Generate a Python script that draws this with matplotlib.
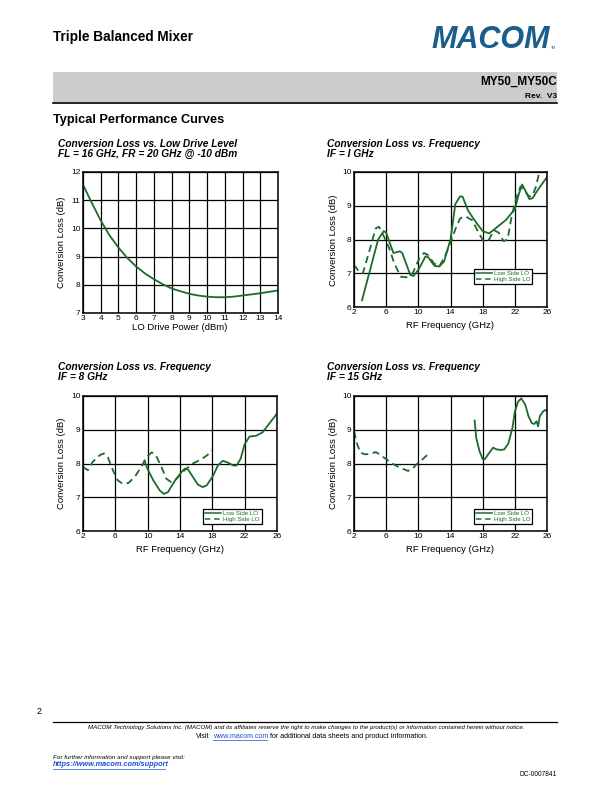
import matplotlib
matplotlib.use("Agg")
import matplotlib.pyplot as plt
from matplotlib.patches import Rectangle
from matplotlib.lines import Line2D

plt.rcParams['font.family'] = ['Liberation Sans', 'DejaVu Sans']

# ---------------- data ----------------
lo_power = [3, 3.5, 4, 4.5, 5, 5.5, 6, 6.5, 7, 7.5, 8, 8.5, 9, 9.5, 10, 10.5, 11, 11.5, 12, 12.5, 13, 13.5, 14]
cl_lo = [11.55, 10.9, 10.28, 9.75, 9.32, 8.95, 8.65, 8.4, 8.2, 8.02, 7.87, 7.77, 7.68, 7.62, 7.58, 7.56, 7.56, 7.58, 7.62, 7.66, 7.7, 7.75, 7.8]

if1_low_f = [3.0, 5.0, 5.7, 6.0, 6.9, 7.7, 8.0, 9.0, 9.4, 10.0, 10.9, 11.2, 12.0, 12.6, 13.2, 14.0, 14.6, 15.2, 15.5, 16.2, 17.2, 18.0, 18.8, 19.6, 20.9, 22.0, 22.5, 22.9, 23.2, 23.8, 24.2, 24.8, 26.0]
if1_low_cl = [6.2, 8.0, 8.25, 8.2, 7.6, 7.65, 7.6, 6.95, 6.92, 7.1, 7.5, 7.48, 7.22, 7.2, 7.35, 8.0, 9.05, 9.28, 9.27, 8.85, 8.5, 8.25, 8.18, 8.33, 8.58, 8.9, 9.35, 9.63, 9.5, 9.2, 9.22, 9.45, 9.85]
if1_high_f = [2.0, 2.7, 3.1, 3.9, 4.7, 5.1, 5.7, 6.4, 7.0, 7.8, 8.5, 9.3, 10.1, 10.7, 11.3, 11.9, 12.6, 13.3, 14.0, 14.6, 15.2, 15.9, 16.7, 17.5, 18.1, 18.8, 19.4, 20.0, 20.6, 21.1, 21.6, 22.1, 22.7, 23.2, 23.8, 24.2, 24.6, 25.0]
if1_high_cl = [7.25, 7.02, 7.0, 7.65, 8.33, 8.38, 8.1, 7.73, 7.3, 6.9, 6.88, 7.0, 7.43, 7.6, 7.53, 7.3, 7.2, 7.5, 7.9, 8.3, 8.63, 8.68, 8.57, 8.2, 7.95, 8.0, 8.28, 8.2, 7.95, 8.0, 8.68, 9.17, 9.57, 9.45, 9.27, 9.3, 9.55, 9.95]

if8_low_f = [9.6, 10.1, 10.7, 11.5, 12.0, 12.5, 13.4, 14.2, 14.6, 15.0, 15.6, 16.2, 16.8, 17.3, 18.1, 18.7, 19.3, 19.9, 20.6, 21.0, 21.5, 22.0, 22.6, 23.4, 24.2, 25.0, 26.0]
if8_low_cl = [8.08, 7.78, 7.5, 7.2, 7.1, 7.15, 7.5, 7.75, 7.85, 7.82, 7.6, 7.38, 7.3, 7.35, 7.64, 7.95, 8.08, 8.03, 7.94, 7.94, 8.14, 8.57, 8.8, 8.82, 8.92, 9.17, 9.48]
if8_high_f = [2.0, 2.6, 3.2, 4.1, 4.6, 5.1, 5.7, 6.3, 6.9, 7.6, 8.4, 9.2, 9.9, 10.5, 11.0, 11.7, 12.3, 12.9, 13.6, 14.1, 14.8, 15.6, 16.6, 17.4, 17.9]
if8_high_cl = [7.9, 7.8, 8.05, 8.25, 8.3, 8.17, 7.8, 7.5, 7.4, 7.42, 7.6, 7.9, 8.2, 8.33, 8.25, 7.9, 7.55, 7.45, 7.55, 7.7, 7.85, 8.0, 8.12, 8.25, 8.4]

if15_low_f = [17.0, 17.2, 17.6, 18.0, 18.3, 18.7, 19.3, 19.7, 20.3, 20.7, 21.2, 21.7, 22.0, 22.4, 22.8, 23.3, 23.7, 24.1, 24.4, 24.7, 24.9, 25.1, 25.5, 25.8, 26.0]
if15_low_cl = [9.27, 8.76, 8.37, 8.13, 8.13, 8.28, 8.47, 8.42, 8.4, 8.42, 8.6, 9.05, 9.53, 9.83, 9.93, 9.74, 9.4, 9.2, 9.17, 9.25, 9.1, 9.4, 9.54, 9.59, 9.54]
if15_high_f = [2.0, 2.4, 2.8, 3.4, 4.1, 4.7, 5.2, 5.7, 6.3, 7.1, 8.0, 8.7, 9.2, 9.8, 10.4, 11.1]
if15_high_cl = [8.96, 8.57, 8.32, 8.27, 8.29, 8.34, 8.27, 8.18, 8.08, 7.95, 7.85, 7.78, 7.83, 7.98, 8.1, 8.25]

freq_ticks = [2, 6, 10, 14, 18, 22, 26]
cl_ticks = [6, 7, 8, 9, 10]
lo_ticks = list(range(3, 15))
lo_cl_ticks = [7, 8, 9, 10, 11, 12]

GREEN = '#1d6b2c'
BLUE_LINK = '#1f4fd0'
W, H = 612, 792

fig = plt.figure(figsize=(W / 100, H / 100), dpi=100)


def fx(x):
    return x / W


def fy(y):
    return 1 - y / H


def axes_px(x0, x1, y0, y1):
    return fig.add_axes([fx(x0), fy(y1), (x1 - x0) / W, (y1 - y0) / H])


def style(ax, xt, yt, xlim, ylim):
    ax.set_xlim(*xlim)
    ax.set_ylim(*ylim)
    ax.set_xticks(xt)
    ax.set_yticks(yt)
    ax.grid(True, color='black', linewidth=0.9)
    ax.tick_params(length=0, labelsize=6.0, pad=1.8)
    for s in ax.spines.values():
        s.set_linewidth(1.1)
    ax.set_axisbelow(True)


def legend(ax, anchor):
    handles = [Line2D([], [], color=GREEN, lw=1.1, ls='-'),
               Line2D([], [], color=GREEN, lw=1.1, ls=(0, (3.5, 2.5)))]
    lg = ax.legend(handles, ['Low Side LO', 'High Side LO'], loc='lower left',
                   bbox_to_anchor=anchor, fontsize=4.4, labelcolor=GREEN,
                   frameon=True, fancybox=False, edgecolor='black',
                   framealpha=1, handlelength=2.6, handletextpad=0.3,
                   borderpad=0.35, labelspacing=0.1, borderaxespad=0)
    lg.get_frame().set_linewidth(0.9)


# ---------------- header ----------------
fig.text(fx(53), fy(37), 'Triple Balanced Mixer', fontsize=9.8, fontweight='bold',
         va='center', ha='left')
fig.text(fx(431), fy(40), 'MACOM', fontsize=22, fontweight='heavy', fontstyle='italic',
         color='#1b5e8c', va='center', ha='left')
fig.text(fx(551), fy(48), 'TM', fontsize=2.5, color='#1b5e8c', va='center', ha='left')
fig.patches.append(Rectangle((fx(53), fy(102)), (557 - 53) / W, (102 - 72) / H,
                             transform=fig.transFigure, facecolor='#cccccc',
                             edgecolor='none'))
fig.add_artist(Line2D([fx(53), fx(557)], [fy(102.5), fy(102.5)], color='black', lw=1.2))
fig.text(fx(557), fy(82), 'MY50_MY50C', fontsize=8.5, fontweight='bold',
         ha='right', va='center')
fig.text(fx(557), fy(97), 'Rev.  V3', fontsize=6, fontweight='bold', ha='right', va='center')
fig.text(fx(53), fy(120), 'Typical Performance Curves', fontsize=9.2, fontweight='bold',
         ha='left', va='center')

# ---------------- chart titles ----------------
titles = [
    (58, 144, 'Conversion Loss vs. Low Drive Level', 'FL = 16 GHz, FR = 20 GHz @ -10 dBm'),
    (327, 144, 'Conversion Loss vs. Frequency', 'IF = I GHz'),
    (58, 367, 'Conversion Loss vs. Frequency', 'IF = 8 GHz'),
    (327, 367, 'Conversion Loss vs. Frequency', 'IF = 15 GHz'),
]
for x, y, t1, t2 in titles:
    fig.text(fx(x), fy(y), t1, fontsize=7.3, fontweight='bold', fontstyle='italic',
             ha='left', va='center')
    fig.text(fx(x), fy(y + 10), t2, fontsize=7.3, fontweight='bold', fontstyle='italic',
             ha='left', va='center')

# ---------------- chart 1 ----------------
ax1 = axes_px(83, 278, 172, 313)
style(ax1, lo_ticks, lo_cl_ticks, (3, 14), (7, 12))
ax1.plot(lo_power, cl_lo, color=GREEN, lw=1.3)
fig.text(fx(62), fy(242), 'Conversion Loss (dB)', rotation=90, fontsize=6.8,
         ha='center', va='center')
fig.text(fx(180), fy(327.5), 'LO Drive Power (dBm)', fontsize=6.8, ha='center', va='center')

# ---------------- chart 2 ----------------
ax2 = axes_px(354, 547, 172, 307)
style(ax2, freq_ticks, cl_ticks, (2, 26), (6, 10))
ax2.plot(if1_low_f, if1_low_cl, color=GREEN, lw=1.3)
ax2.plot(if1_high_f, if1_high_cl, color=GREEN, lw=1.3, ls=(0, (4, 2.5)))
legend(ax2, (0.62, 0.17))
fig.text(fx(333), fy(240), 'Conversion Loss (dB)', rotation=90, fontsize=6.8,
         ha='center', va='center')
fig.text(fx(450), fy(326), 'RF Frequency (GHz)', fontsize=6.8, ha='center', va='center')

# ---------------- chart 3 ----------------
ax3 = axes_px(83, 277, 396, 531)
style(ax3, freq_ticks, cl_ticks, (2, 26), (6, 10))
ax3.plot(if8_low_f, if8_low_cl, color=GREEN, lw=1.3)
ax3.plot(if8_high_f, if8_high_cl, color=GREEN, lw=1.3, ls=(0, (4, 2.5)))
legend(ax3, (0.62, 0.05))
fig.text(fx(62), fy(463), 'Conversion Loss (dB)', rotation=90, fontsize=6.8,
         ha='center', va='center')
fig.text(fx(180), fy(550), 'RF Frequency (GHz)', fontsize=6.8, ha='center', va='center')

# ---------------- chart 4 ----------------
ax4 = axes_px(354, 547, 396, 531)
style(ax4, freq_ticks, cl_ticks, (2, 26), (6, 10))
ax4.plot(if15_low_f, if15_low_cl, color=GREEN, lw=1.3)
ax4.plot(if15_high_f, if15_high_cl, color=GREEN, lw=1.3, ls=(0, (4, 2.5)))
legend(ax4, (0.62, 0.05))
fig.text(fx(333), fy(463), 'Conversion Loss (dB)', rotation=90, fontsize=6.8,
         ha='center', va='center')
fig.text(fx(450), fy(550), 'RF Frequency (GHz)', fontsize=6.8, ha='center', va='center')

# ---------------- footer ----------------
fig.text(fx(39), fy(712), '2', fontsize=6.5, ha='center', va='center')
fig.add_artist(Line2D([fx(53), fx(557)], [fy(721.5), fy(721.5)], color='black', lw=0.9))
fig.text(fx(306), fy(728), 'MACOM Technology Solutions Inc. (MACOM) and its affiliates reserve the right '
         'to make changes to the product(s) or information contained herein without notice.',
         fontsize=4.4, fontstyle='italic', ha='center', va='center')
fig.text(fx(196), fy(736), 'Visit', fontsize=5.1, ha='left', va='center')
fig.text(fx(213), fy(736), 'www.macom.com', fontsize=5.1, ha='left', va='center',
         color=BLUE_LINK)
fig.add_artist(Line2D([fx(213), fx(267)], [fy(739.5), fy(739.5)], color=BLUE_LINK, lw=0.5))
fig.text(fx(270.5), fy(736), 'for additional data sheets and product information.',
         fontsize=5.1, ha='left', va='center')
fig.text(fx(53), fy(757.5), 'For further information and support please visit:', fontsize=4.5,
         fontstyle='italic', ha='left', va='center')
fig.text(fx(53), fy(765), 'https://www.macom.com/support', fontsize=5.3, fontstyle='italic',
         fontweight='bold', color=BLUE_LINK, ha='left', va='center')
fig.add_artist(Line2D([fx(53), fx(165)], [fy(768.5), fy(768.5)], color=BLUE_LINK, lw=0.5))
fig.text(fx(557), fy(774), 'DC-0007841', fontsize=4.8, ha='right', va='center')

fig.savefig('out.png', dpi=100)
